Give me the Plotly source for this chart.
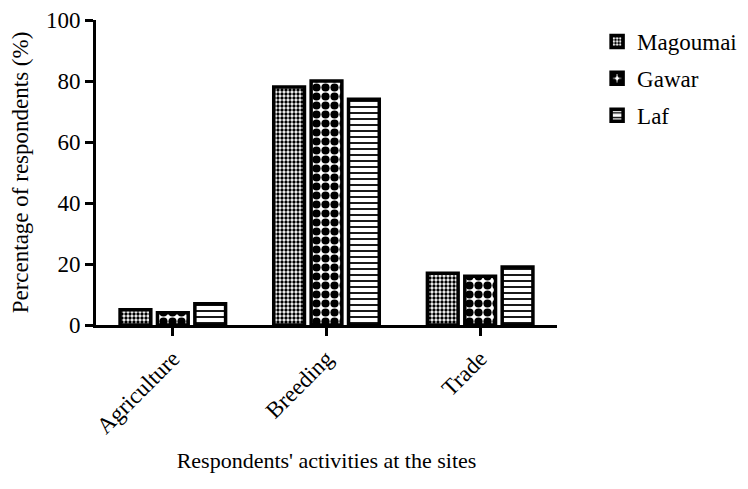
import plotly.graph_objects as go

categories = ["Agriculture", "Breeding", "Trade"]
magoumai = [5, 78, 17]
gawar = [4, 80, 16]
laf = [7, 74, 19]

FONT = "Times New Roman, Liberation Serif, DejaVu Serif, serif"

fig = go.Figure()
series = [
    ("Magoumai", magoumai, dict(shape=".", size=4, solidity=0.55, fgcolor="black", bgcolor="white", fillmode="replace")),
    ("Gawar", gawar, dict(shape=".", size=9, solidity=0.65, fgcolor="black", bgcolor="white", fillmode="replace")),
    ("Laf", laf, dict(shape="-", size=6, solidity=0.3, fgcolor="black", bgcolor="white", fillmode="replace")),
]
for name, vals, pat in series:
    fig.add_trace(go.Bar(
        x=categories, y=vals, name=name, legendgroup=name,
        marker=dict(color="white", line=dict(color="black", width=3.5), pattern=pat),
        width=0.2,
    ))

fig.update_layout(
    barmode="group", bargap=0.27, bargroupgap=0.25,
    width=748, height=489,
    margin=dict(l=88, r=199, t=12, b=172, autoexpand=False),
    plot_bgcolor="white", paper_bgcolor="white",
    font=dict(family=FONT, size=22, color="black"),
    showlegend=True,
    legend=dict(x=1.087, y=1.0, xanchor="left", yanchor="top",
                font=dict(family=FONT, size=23), tracegroupgap=4,
                bgcolor="rgba(0,0,0,0)"),
    xaxis=dict(
        range=[-0.5, 2.5], showline=True, linecolor="black", linewidth=3,
        ticks="outside", ticklen=8, tickwidth=3, tickcolor="black",
        tickangle=-45, tickfont=dict(family=FONT, size=23),
        title=dict(text="Respondents' activities at the sites", font=dict(family=FONT, size=22)),
        showgrid=False, zeroline=False, automargin=False,
    ),
    yaxis=dict(
        range=[0, 100], tickvals=[0, 20, 40, 60, 80, 100],
        showline=True, linecolor="black", linewidth=3,
        ticks="outside", ticklen=8, tickwidth=3, tickcolor="black",
        tickfont=dict(family=FONT, size=23),
        title=dict(text="Percentage of respondents (%)", font=dict(family=FONT, size=23)),
        showgrid=False, zeroline=False, automargin=False,
    ),
)

fig.write_html("out.html")
